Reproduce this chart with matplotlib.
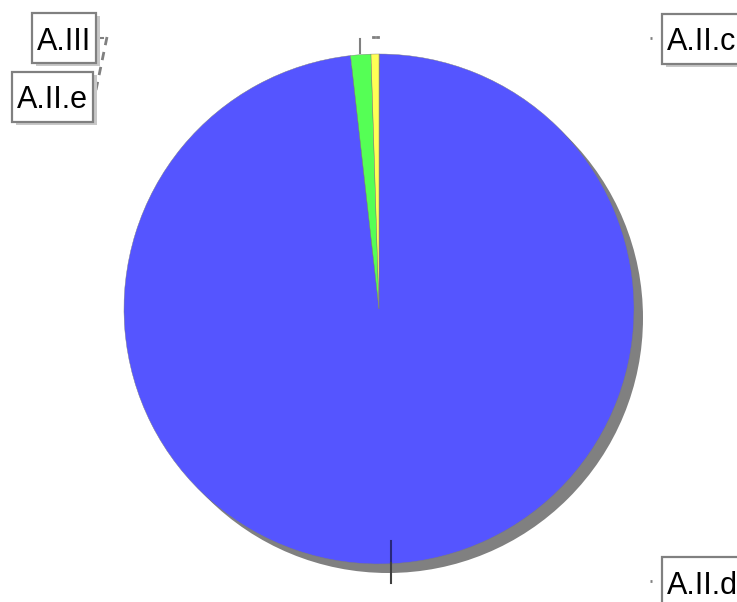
import matplotlib
matplotlib.use("Agg")
import matplotlib.pyplot as plt
from matplotlib.patches import Circle, Rectangle

labels = ["A.II.c", "A.II.d", "A.II.e", "A.III"]
values = [0.03, 98.19, 1.28, 0.50]
colors = ["#FF5555", "#5555FF", "#55FF55", "#FFFF55"]

W, H = 737, 602
fig = plt.figure(figsize=(W / 100, H / 100), dpi=100)
ax = fig.add_axes([0, 0, 1, 1])

def Y(py):
    return H - py

fam = ["Liberation Sans", "DejaVu Sans"]

cx, cy, r = 379, 309, 255
# shadow
ax.add_patch(Circle((cx + 9, Y(cy + 9)), r, facecolor="#808080", edgecolor="none", zorder=1))
ax.pie(values, colors=colors, startangle=90, counterclock=False,
       center=(cx, Y(cy)), radius=r, frame=True,
       wedgeprops=dict(edgecolor="#7a7a7a", linewidth=0.3, zorder=2))
ax.set_xlim(0, W)
ax.set_ylim(0, H)
ax.set_aspect("auto")
ax.axis("off")

# leader marks
g = "#808080"
ax.plot([650, 652], [Y(38), Y(38)], color=g, lw=2, solid_capstyle="butt", zorder=3)
ax.plot([650, 652], [Y(581), Y(581)], color=g, lw=2, solid_capstyle="butt", zorder=3)
ax.plot([95, 103], [Y(38), Y(38)], color=g, lw=1.5, zorder=3)
ax.plot([107, 96], [Y(37), Y(90)], color=g, lw=2, ls=(0, (3, 2.5)), zorder=3)
ax.plot([360, 360], [Y(39), Y(53)], color=g, lw=1.5, zorder=3)
ax.plot([373, 374], [Y(37), Y(37)], color=g, lw=2, zorder=3)
ax.plot([377, 378], [Y(37), Y(37)], color=g, lw=2, zorder=3)
ax.plot([391, 391], [Y(541), Y(563)], color="#28287a", lw=1.5, zorder=3)
ax.plot([391, 391], [Y(563), Y(583)], color="#404040", lw=1.5, zorder=3)

# label anchors: (text left x, box center y) in pixel coords from top-left
label_pos = {"A.III": (37, 38), "A.II.e": (17, 97), "A.II.c": (667, 39), "A.II.d": (667, 582)}
fs = 22
texts = {}
for lab in labels:
    x, y = label_pos[lab]
    texts[lab] = ax.text(x, Y(y), lab, fontsize=fs, family=fam, color="black",
                         ha="left", va="center_baseline", zorder=6)

fig.canvas.draw()
ren = fig.canvas.get_renderer()
box_h = 50
padx = 5
for lab in labels:
    x, y = label_pos[lab]
    ext = texts[lab].get_window_extent(ren)
    bw = ext.width + 2 * padx
    left = x - padx
    bottom = Y(y + box_h / 2)
    ax.add_patch(Rectangle((left + 4, bottom - 3), bw, box_h, facecolor="#c8c8c8",
                           edgecolor="none", zorder=4))
    ax.add_patch(Rectangle((left, bottom), bw, box_h, facecolor="white",
                           edgecolor="#808080", linewidth=1.6, zorder=5))

fig.savefig("out.png", dpi=100)
